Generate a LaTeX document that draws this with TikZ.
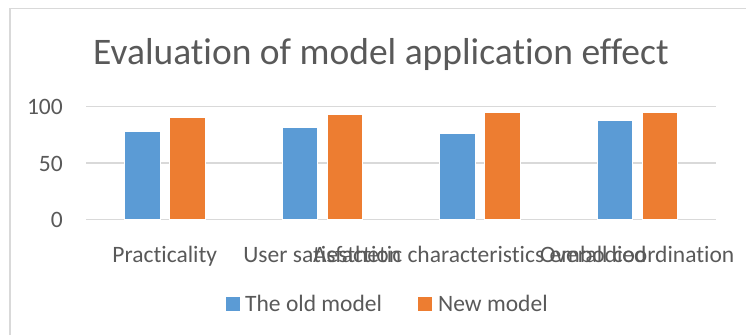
\documentclass[tikz,border=0pt]{standalone}
\usepackage{fontspec}
\setmainfont{Carlito}[Ligatures=NoCommon]
\definecolor{oldblue}{HTML}{5B9BD5}
\definecolor{neworange}{HTML}{ED7D31}
\definecolor{txtgray}{HTML}{595959}
\definecolor{gridgray}{HTML}{D9D9D9}
\begin{document}
\begin{tikzpicture}[x=1pt,y=-1pt,
  lbl/.style={text=txtgray,font=\fontsize{23.5}{23.5}\selectfont,inner sep=0pt},
  ticklbl/.style={lbl,anchor=base east},
  catlbl/.style={lbl,anchor=base},
  gridline/.style={draw=gridgray,line width=1.2pt},
  oldbar/.style={fill=oldblue,draw=white,line width=0.5pt},
  newbar/.style={fill=neworange,draw=white,line width=0.5pt}]
\useasboundingbox (0,0) rectangle (746,335);
% chart frame
\draw[draw=gridgray,line width=2pt] (10,335) -- (10,8.5);
\draw[draw=gridgray,line width=1pt] (9,8.5) -- (746,8.5);
% title
\node[text=txtgray,font=\fontsize{37.5}{37.5}\selectfont,inner sep=0pt,anchor=base] (title) at (381,64.3) {Evaluation of model application effect};
% value axis: 0 at y=219.3, 1.126 px per unit
\foreach \v/\nm in {0/t0,50/t50,100/t100}{
  \draw[gridline] (86,{219.3-1.126*\v}) -- (716,{219.3-1.126*\v});
  \node[ticklbl] (\nm) at (63,{219.3-1.126*\v+8}) {\v};
}
% bars
\foreach \i/\a/\b in {0/78/91,1/82/93,2/76/95,3/88/95}{
  \pgfmathsetmacro{\c}{86+157.5*(\i+0.5)}
  \draw[oldbar] ({\c-40.1},219.3) rectangle ({\c-4.8},{219.3-1.126*\a});
  \draw[newbar] ({\c+4.9},219.3) rectangle ({\c+40.2},{219.3-1.126*\b});
}
% category labels
\node[catlbl] (c1) at (164.75,262.7) {Practicality};
\node[catlbl] (c2) at (322.25,262.7) {User satisfaction};
\node[catlbl] (c3) at (479.75,262.7) {Aesthetic characteristics embodied};
\node[catlbl] (c4) at (637.25,262.7) {Overall coordination};
% legend
\fill[oldblue] (226,297) rectangle (240,311);
\node[lbl,anchor=base west] (lg1) at (245,311) {The old model};
\fill[neworange] (418,297) rectangle (432,311);
\node[lbl,anchor=base west] (lg2) at (438,311) {New model};
\end{tikzpicture}
\end{document}
